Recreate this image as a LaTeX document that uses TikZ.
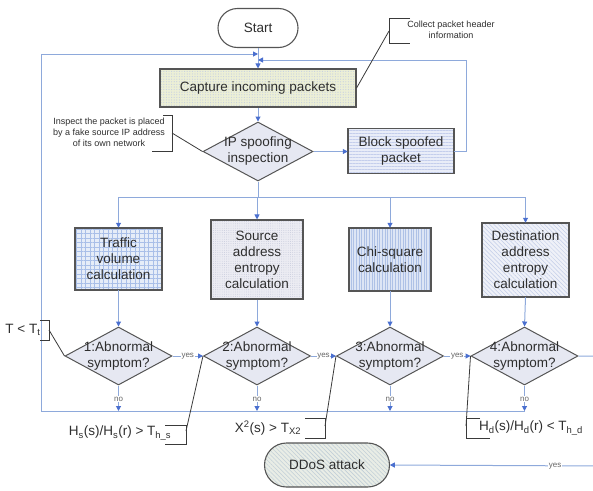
\documentclass[tikz,border=0pt]{standalone}
\usepackage{fontspec}
\setmainfont{Liberation Sans}
\usetikzlibrary{shapes.geometric,shapes.misc,patterns.meta,arrows.meta}
\definecolor{conncol}{HTML}{8EA9DB}
\definecolor{tipcol}{HTML}{4A6FCF}
\definecolor{bordcol}{HTML}{555555}
\definecolor{txtcol}{HTML}{2E2E2E}
\definecolor{callcol}{HTML}{3A3A3A}
\definecolor{labcol}{HTML}{666666}
\definecolor{diafill}{HTML}{E6E8F2}
\definecolor{capbase}{HTML}{ECEFD6}
\definecolor{cappat}{HTML}{C6D0E2}
\definecolor{blkbase}{HTML}{E9EDF8}
\definecolor{blkpat}{HTML}{C4CEEC}
\definecolor{trbase}{HTML}{E6EDF8}
\definecolor{trpat}{HTML}{A9BFE8}
\definecolor{srbase}{HTML}{ECECF3}
\definecolor{srpat}{HTML}{C4C8DA}
\definecolor{chbase}{HTML}{DDE5F5}
\definecolor{chpat}{HTML}{AEC1E6}
\definecolor{dsbase}{HTML}{EFF1F8}
\definecolor{dspat}{HTML}{C2CDE8}
\definecolor{ddbase}{HTML}{E9EDE6}
\definecolor{ddpat}{HTML}{C2CFD8}
\begin{document}
\begin{tikzpicture}[x=1pt,y=-1pt,
  font=\fontsize{13.5}{16}\selectfont, text=txtcol,
  box/.style={rectangle, draw=bordcol, line width=1.1pt, inner sep=0pt, align=center},
  pill/.style={rounded rectangle, draw=bordcol, line width=1.1pt, inner sep=0pt, align=center},
  dia/.style={diamond, draw=bordcol, line width=1pt, fill=diafill, inner sep=0pt,
              minimum width=107pt, minimum height=58pt},
  conn/.style={draw=conncol, line width=1pt},
  arr/.style={conn, -{Triangle[length=5pt,width=5pt,color=tipcol]}},
  call/.style={draw=callcol, line width=0.8pt},
  small/.style={font=\fontsize{9}{11}\selectfont, align=center},
  lab/.style={font=\fontsize{8}{9}\selectfont, text=labcol, fill=white, inner sep=0.6pt},
  capfill/.style={preaction={fill=capbase}, pattern={Dots[distance=2.6pt,radius=0.6pt]}, pattern color=cappat},
  blkfill/.style={preaction={fill=blkbase}, pattern={Lines[angle=0,distance=3pt,line width=0.5pt]}, pattern color=blkpat},
  trfill/.style={preaction={fill=trbase}, pattern={Hatch[angle=0,distance=4.5pt,line width=0.5pt]}, pattern color=trpat},
  srfill/.style={preaction={fill=srbase}, pattern={Dots[distance=2.2pt,radius=0.45pt]}, pattern color=srpat},
  chfill/.style={preaction={fill=chbase}, pattern={Lines[angle=90,distance=2.6pt,line width=0.5pt]}, pattern color=chpat},
  dsfill/.style={preaction={fill=dsbase}, pattern={Lines[angle=-45,distance=3pt,line width=0.5pt]}, pattern color=dspat},
  ddfill/.style={preaction={fill=ddbase}, pattern={Lines[angle=-45,distance=3pt,line width=0.6pt]}, pattern color=ddpat},
]
\useasboundingbox (0,0) rectangle (593,490);
\clip (0,0) rectangle (593,490);

% main nodes
\node[pill, minimum width=80pt, minimum height=39pt, fill=white] (start) at (258,28) {Start};
\node[box, capfill, minimum width=196pt, minimum height=38pt] (cap) at (258,88) {Capture incoming packets};
\node[dia, minimum width=110pt, minimum height=59pt] (ip) at (258,151.5) {};
\node[align=center] (iptxt) at (ip) {IP spoofing\\inspection};
\node[box, blkfill, minimum width=106pt, minimum height=45pt] (blk) at (401,151) {Block spoofed\\packet};

\node[box, trfill, minimum width=87pt, minimum height=62pt] (b1) at (118.5,259) {Traffic\\volume\\calculation};
\node[box, srfill, minimum width=92pt, minimum height=79pt] (b2) at (257,259.5) {Source\\address\\entropy\\calculation};
\node[box, chfill, minimum width=82pt, minimum height=63pt] (b3) at (390,259.5) {Chi-square\\calculation};
\node[box, dsfill, minimum width=87pt, minimum height=74pt] (b4) at (525.5,260) {Destination\\address\\entropy\\calculation};

\node[dia] (d1) at (118.5,356) {};
\node[dia] (d2) at (257,356) {};
\node[dia] (d3) at (390,356) {};
\node[dia] (d4) at (524.5,356) {};
\node[align=center] (d1t) at (d1) {1:Abnormal\\symptom?};
\node[align=center] (d2t) at (d2) {2:Abnormal\\symptom?};
\node[align=center] (d3t) at (d3) {3:Abnormal\\symptom?};
\node[align=center] (d4t) at (d4) {4:Abnormal\\symptom?};

\node[pill, ddfill, minimum width=125pt, minimum height=44pt] (ddos) at (327,465) {DDoS attack};

% routing coordinates
\coordinate (topL) at (41,54);
\coordinate (topM) at (258,54);
\coordinate (botL) at (41,411);
\coordinate (botR) at (525,411);
\coordinate (rtop) at (466,60);
\coordinate (rmid) at (258,60);
\coordinate (split) at (258,197);
\coordinate (rx1) at (600,356);
\coordinate (rx2) at (600,466);

% connectors
\draw[arr] (start.south) -- (cap.north);
\draw[arr] (cap.south) -- (ip.north);
\draw[arr] (ip.east) -- (ip.east -| blk.west);
\draw[arr] (blk.east) -| (rtop) -- (rmid);
\draw[arr] (botR) -- (botL) -- (topL) -- (topM);

\draw[conn] (ip.south) -- (split);
\draw[conn] (b1.north |- split) -- (b4.north |- split);
\draw[arr] (b1.north |- split) -- (b1.north);
\draw[arr] (b2.north |- split) -- (b2.north);
\draw[arr] (b3.north |- split) -- (b3.north);
\draw[arr] (b4.north |- split) -- (b4.north);

\draw[arr] (b1.south) -- (d1.north);
\draw[arr] (b2.south) -- (d2.north);
\draw[arr] (b3.south) -- (d3.north);
\draw[arr] (b4.south) -- (d4.north);

\draw[arr] (d1.east) -- node[lab]{yes} (d2.west);
\draw[arr] (d2.east) -- node[lab]{yes} (d3.west);
\draw[arr] (d3.east) -- node[lab]{yes} (d4.west);
\draw[arr] (d4.east) -- (rx1) -- (rx2) -- node[lab,pos=0.214]{yes} (ddos.east);

\draw[arr] (d1.south) -- node[lab,pos=0.54]{no} (d1.south |- botL);
\draw[arr] (d2.south) -- node[lab,pos=0.54]{no} (d2.south |- botL);
\draw[arr] (d3.south) -- node[lab,pos=0.54]{no} (d3.south |- botL);
\draw[arr] (d4.south) -- node[lab,pos=0.54]{no} (d4.south |- botL);

% callout: collect packet header information
\node[small] (colltxt) at (451,30) {Collect packet header\\information};
\coordinate (c1a) at (410,18); \coordinate (c1b) at (389,18);
\coordinate (c1c) at (389,43); \coordinate (c1d) at (410,43);
\coordinate (c1m) at (389,31);
\draw[call] (c1a) -- (c1b) -- (c1c) -- (c1d);
\draw[call] (c1m) -- (cap.east);

% callout: inspect
\node[small] (insptxt) at (109,132) {Inspect the packet is placed\\by a fake source IP address\\of its own network};
\coordinate (c2a) at (163,115); \coordinate (c2b) at (172,115);
\coordinate (c2c) at (172,151); \coordinate (c2d) at (152,151);
\coordinate (c2m) at (172,133);
\draw[call] (c2a) -- (c2b) -- (c2c) -- (c2d);
\draw[call] (c2m) -- (ip.west);

% callout: T < Tt
\node (t1txt) at (23,330) {T < T\textsubscript{t}};
\coordinate (c3a) at (40,320); \coordinate (c3b) at (49,320);
\coordinate (c3c) at (49,340); \coordinate (c3d) at (40,340);
\coordinate (c3m) at (49,330);
\draw[call] (c3a) -- (c3b) -- (c3c) -- (c3d);
\draw[call] (c3m) -- (d1.west);

% callout: Hs
\node (t2txt) at (120,433) {H\textsubscript{s}(s)/H\textsubscript{s}(r) > T\textsubscript{h\_s}};
\coordinate (c4a) at (165,425); \coordinate (c4b) at (186,425);
\coordinate (c4c) at (186,444); \coordinate (c4d) at (165,444);
\coordinate (c4m) at (186,431);
\draw[call] (c4a) -- (c4b) -- (c4c) -- (c4d);
\draw[call] (c4m) -- (d2.west);

% callout: X2
\node (t3txt) at (268,428) {X\textsuperscript{2}(s) > T\textsubscript{X2}};
\coordinate (c5a) at (305,418); \coordinate (c5b) at (325,418);
\coordinate (c5c) at (325,438); \coordinate (c5d) at (305,438);
\coordinate (c5m) at (325,426);
\draw[call] (c5a) -- (c5b) -- (c5c) -- (c5d);
\draw[call] (c5m) -- (d3.west);

% callout: Hd
\node (t4txt) at (531,428) {H\textsubscript{d}(s)/H\textsubscript{d}(r) < T\textsubscript{h\_d}};
\coordinate (c6a) at (480,418); \coordinate (c6b) at (466,418);
\coordinate (c6c) at (466,438); \coordinate (c6d) at (490,438);
\coordinate (c6m) at (466,426);
\draw[call] (c6a) -- (c6b) -- (c6c) -- (c6d);
\draw[call] (c6m) -- (d4.west);
\end{tikzpicture}
\end{document}
